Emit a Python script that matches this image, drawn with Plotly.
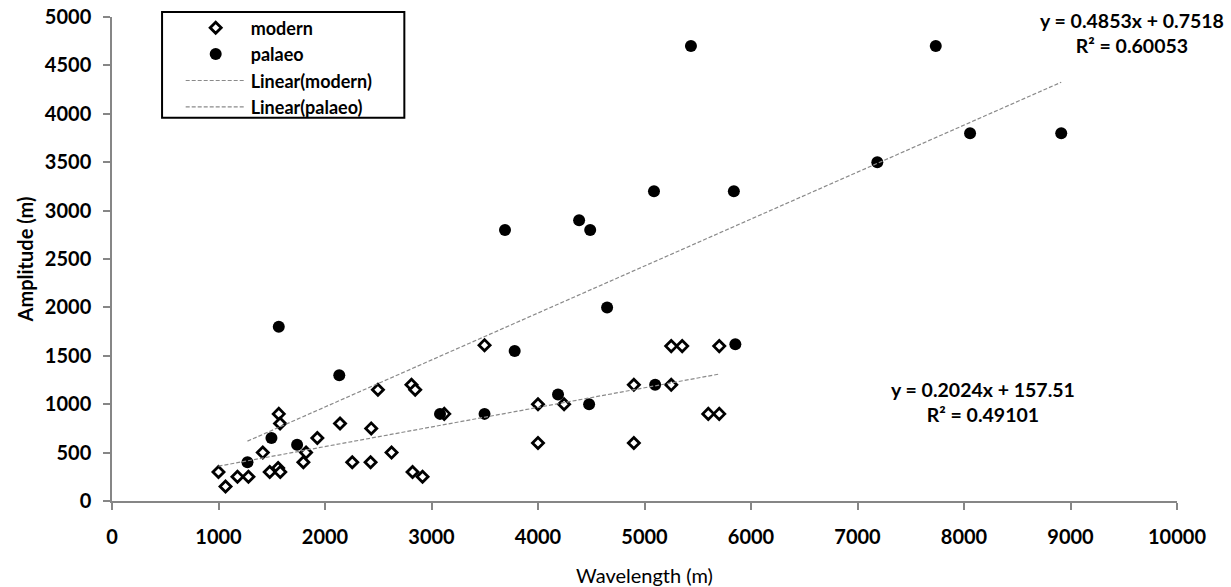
import plotly.graph_objects as go

# ---- data ----
modern_x = [1000, 1066, 1178, 1281, 1416, 1481, 1566, 1578, 1560, 1580, 1797, 1822, 1928,
            2141, 2256, 2434, 2428, 2497, 2625, 2812, 2847, 2822, 2916, 3120, 3498, 4000,
            4000, 4245, 4900, 4900, 5251, 5251, 5354, 5599, 5702, 5702]
modern_y = [300, 150, 250, 250, 500, 300, 900, 800, 340, 300, 400, 500, 650,
            800, 400, 750, 400, 1150, 500, 1200, 1150, 300, 250, 900, 1610, 1000,
            600, 1000, 1200, 600, 1200, 1600, 1600, 900, 900, 1600]

palaeo_x = [1272, 1497, 1566, 1738, 2134, 3080, 3498, 3690, 3781, 4188, 4386, 4480, 4490,
            4649, 5089, 5100, 5436, 5839, 5853, 7186, 7735, 8057, 8913]
palaeo_y = [400, 650, 1800, 580, 1300, 900, 900, 2800, 1550, 1100, 2900, 1000, 2800,
            2000, 3200, 1200, 4700, 3200, 1620, 3500, 4700, 3800, 3800]

# trendline equations (as printed on the chart)
modern_slope, modern_icpt, modern_r2 = 0.2024, 157.51, 0.49101
palaeo_slope, palaeo_icpt, palaeo_r2 = 0.4853, 0.7518, 0.60053

x_ticks = list(range(0, 10001, 1000))
x_labels = [str(v) for v in x_ticks]
y_ticks = list(range(0, 5001, 500))
y_labels = [str(v) for v in y_ticks]

FONT = "Lato"
AXIS_GREY = "#868686"

fig = go.Figure()

fig.add_trace(go.Scatter(
    x=modern_x, y=modern_y, mode="markers", name="modern",
    marker=dict(symbol="diamond", size=8.5, color="white",
                line=dict(color="black", width=2.8)),
))
fig.add_trace(go.Scatter(
    x=palaeo_x, y=palaeo_y, mode="markers", name="palaeo",
    marker=dict(symbol="circle", size=12, color="black", line=dict(width=0)),
))

mx = [min(modern_x), max(modern_x)]
fig.add_trace(go.Scatter(
    x=mx, y=[modern_slope * v + modern_icpt for v in mx], mode="lines",
    name="Linear(modern)", line=dict(color="#8a8a8a", width=1.2, dash="4px,2px"),
))
px_ = [min(palaeo_x), max(palaeo_x)]
fig.add_trace(go.Scatter(
    x=px_, y=[palaeo_slope * v + palaeo_icpt for v in px_], mode="lines",
    name="Linear(palaeo)", line=dict(color="#8a8a8a", width=1.2, dash="4px,2px"),
))

fig.add_annotation(
    xref="paper", yref="paper", x=0.9575, y=0.967, xanchor="center", yanchor="middle",
    text=f"y = {palaeo_slope}x + {palaeo_icpt}<br>R² = {palaeo_r2}",
    showarrow=False, align="center",
    font=dict(family=FONT, size=19.5, color="black", weight="bold"),
)
fig.add_annotation(
    xref="paper", yref="paper", x=0.818, y=0.205, xanchor="center", yanchor="middle",
    text=f"y = {modern_slope}x + {modern_icpt}<br>R² = {modern_r2}",
    showarrow=False, align="center",
    font=dict(family=FONT, size=19.5, color="black", weight="bold"),
)

# legend frame
fig.add_shape(type="rect", xref="paper", yref="paper",
              x0=0.047, x1=0.2745, y0=0.792, y1=1.0104,
              line=dict(color="black", width=2), fillcolor="rgba(0,0,0,0)")

fig.update_layout(
    width=1231, height=587,
    margin=dict(l=112, r=54, t=17, b=86, autoexpand=False),
    paper_bgcolor="white", plot_bgcolor="white",
    font=dict(family=FONT, color="black"),
    showlegend=True,
    legend=dict(x=0.0645, y=1.0155, xanchor="left", yanchor="top",
                bgcolor="rgba(0,0,0,0)", borderwidth=0,
                font=dict(family=FONT, size=18, color="black", weight="bold"),
                itemwidth=60, tracegroupgap=0),
    xaxis=dict(range=[0, 10000], tickvals=x_ticks, ticktext=x_labels,
               showgrid=False, zeroline=False, automargin=False,
               showline=True, linecolor=AXIS_GREY, linewidth=1.5,
               ticks="outside", ticklen=7, tickcolor=AXIS_GREY, tickwidth=1.5,
               ticklabelstandoff=10,
               tickfont=dict(family=FONT, size=20, color="black", weight="bold"),
               title=dict(text="Wavelength (m)", standoff=23,
                          font=dict(family=FONT, size=20, color="black"))),
    yaxis=dict(range=[0, 5000], tickvals=y_ticks, ticktext=y_labels,
               showgrid=False, zeroline=False, automargin=False,
               showline=True, linecolor=AXIS_GREY, linewidth=1.5,
               ticks="outside", ticklen=7, tickcolor=AXIS_GREY, tickwidth=1.5,
               ticklabelstandoff=8,
               tickfont=dict(family=FONT, size=20, color="black", weight="bold"),
               title=dict(text="Amplitude (m)", standoff=6,
                          font=dict(family=FONT, size=20, color="black", weight="bold"))),
)

fig.write_html("out.html", config={"displayModeBar": False},
               post_script="document.body.style.margin='0';")
